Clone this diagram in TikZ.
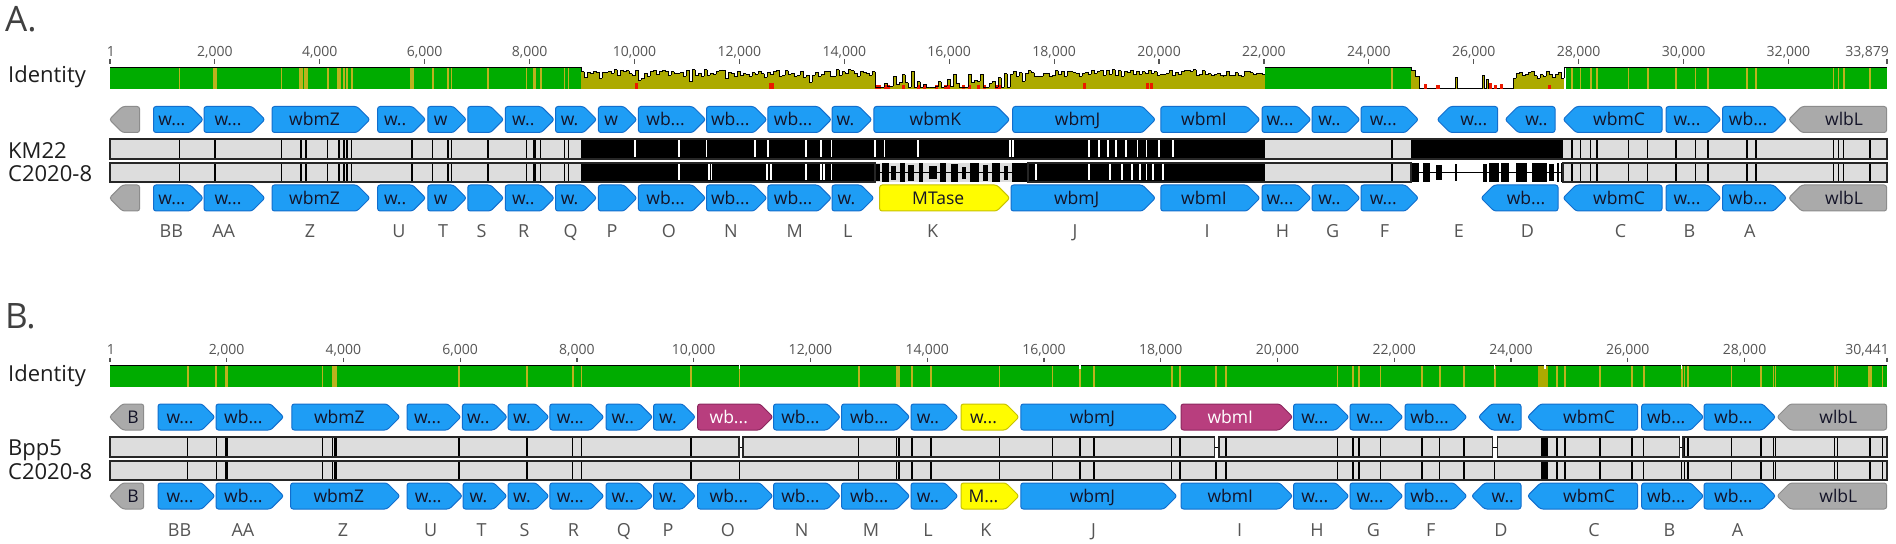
\documentclass[tikz,border=0pt]{standalone}
\usepackage{fontspec}
\setmainfont{Open Sans}
\definecolor{gblue}{RGB}{30,157,245}
\definecolor{gblueb}{RGB}{18,110,205}
\definecolor{ggrey}{RGB}{170,170,170}
\definecolor{ggreyb}{RGB}{140,140,140}
\definecolor{gyel}{RGB}{255,252,0}
\definecolor{gyelb}{RGB}{200,195,0}
\definecolor{gmag}{RGB}{184,62,126}
\definecolor{gmagb}{RGB}{140,40,95}
\definecolor{idgreen}{RGB}{0,172,0}
\definecolor{idolive}{RGB}{172,170,0}
\definecolor{idstripe}{RGB}{188,178,30}
\definecolor{idred}{RGB}{235,25,0}
\definecolor{bargrey}{RGB}{221,221,221}
\definecolor{txtdark}{RGB}{30,30,30}
\definecolor{txtgrey}{RGB}{85,85,85}
\definecolor{glabc}{RGB}{20,20,40}
\def\gd{...}
\def\gdd{..}
\newcounter{gn}
\newcommand\gene[6]{%
  \stepcounter{gn}%
  \pgfmathsetmacro\gtip{min(13,0.45*(#2-#1))}%
  \if r#4%
    \pgfmathsetmacro\gxa{#1}%
    \pgfmathsetmacro\gxb{#2-\gtip}%
    \draw[#5] (#1,#3-13) -- (\gxb,#3-13) -- (#2,#3) -- (\gxb,#3+13) -- (#1,#3+13) -- cycle;%
  \else
    \pgfmathsetmacro\gxa{#1+\gtip}%
    \pgfmathsetmacro\gxb{#2}%
    \draw[#5] (#2,#3-13) -- (\gxa,#3-13) -- (#1,#3) -- (\gxa,#3+13) -- (#2,#3+13) -- cycle;%
  \fi
  \node[glabel,#5t] (g\arabic{gn}) at ({(\gxa+\gxb)/2},#3+6.2) {#6};%
}
\def\Amis{179.6/1, 215/2, 281.6/1, 301/2, 306/2, 327.8/1, 338.8/2, 344/1, 347/1, 351.8/1, 412/2, 432.7/1, 448/1, 451.4/1, 488/1, 526.5/1, 534.7/2, 540.8/1, 564.5/1, 568.6/1, 1392/1, 1572/1, 1580.5/1, 1590.7/1, 1597/1, 1628.6/1, 1647.8/1, 1676/1, 1695.6/1, 1708/1, 1747/1, 1756/1, 1833.5/1, 1838.4/1, 1843.7/1, 1870/1}
\def\Bmis{187.8/1, 216.3/1, 226.5/2, 322.4/1, 332.7/1, 335.5/2, 459/1, 527/1, 572.7/1, 581.6/1, 691/1, 739.6/1, 858.8/1, 896.7/1, 899/1, 912/1, 931/1, 999.6/1, 1052.6/1, 1080/1, 1094/1, 1171.8/1, 1180/1, 1216/1, 1226/1, 1337.6/1, 1353/1, 1359/1, 1380.5/1, 1422/1, 1439.7/1, 1464/1, 1494.8/1, 1557/1, 1565/1, 1600/1, 1632/1, 1643.8/1, 1681.7/1, 1684.6/1, 1688/1, 1731.5/1, 1761/1, 1773.6/1, 1775.6/1, 1834.8/1, 1837.6/1, 1870/2, 1882.5/1}
\begin{document}
\begin{tikzpicture}[x=1bp,y=-1bp,
  gb/.style={fill=gblue,draw=gblueb,line width=1bp,rounded corners=2.5bp,line join=round},
  gg/.style={fill=ggrey,draw=ggreyb,line width=1bp,rounded corners=2.5bp,line join=round},
  gy/.style={fill=gyel,draw=gyelb,line width=1bp,rounded corners=2.5bp,line join=round},
  gm/.style={fill=gmag,draw=gmagb,line width=1bp,rounded corners=2.5bp,line join=round},
  gbt/.style={text=glabc}, ggt/.style={text=glabc}, gyt/.style={text=glabc}, gmt/.style={text=white},
  glabel/.style={font=\fontsize{17.5bp}{20bp}\selectfont,inner sep=0pt,anchor=base},
  letter/.style={font=\fontsize{18bp}{20bp}\selectfont,text=txtgrey,inner sep=0pt,anchor=base},
  axnum/.style={font=\fontsize{14bp}{16bp}\selectfont,text=txtgrey,inner sep=0pt,anchor=base},
  side/.style={font=\fontsize{22bp}{26bp}\selectfont,text=txtdark,inner sep=0pt,anchor=base west},
  panel/.style={font=\fontsize{35bp}{40bp}\selectfont,text=txtdark!85,inner sep=0pt,anchor=base west},
  tickl/.style={draw=txtgrey,line width=1.2bp},
  histline/.style={draw=black,line width=0.7bp},
  barline/.style={draw=black!85,line width=1.5bp},
  misline/.style={draw=black},
]
\useasboundingbox (0,0) rectangle (1896,544);
\fill[white] (0,0) rectangle (1896,544);

% ---------------- labels
\node[panel] (panA) at (5,32) {A.};
\node[panel] (panB) at (5,329) {B.};
\node[side] (idA) at (8,83) {Identity};
\node[side] (idB) at (8,381) {Identity};
\node[side] (kmA) at (8,158.3) {KM22};
\node[side] (cA) at (8,181.7) {C2020-8};
\node[side] (bpB) at (8,455) {Bpp5};
\node[side] (cB) at (8,479) {C2020-8};

% ---------------- axes (positions in thousands of bp)
\def\kA{52.453}
\def\kB{58.377}
\draw[tickl] (110,59.5) -- (110,64);
\node[axnum] (axA0) at (111,57) {1};
\foreach \v/\lab [count=\c] in {2/{2,000},4/{4,000},6/{6,000},8/{8,000},10/{10,000},12/{12,000},14/{14,000},16/{16,000},18/{18,000},20/{20,000},22/{22,000},24/{24,000},26/{26,000},28/{28,000},30/{30,000},32/{32,000}}{
  \pgfmathsetmacro\xx{110+\v*\kA-0.05}
  \draw[tickl] (\xx,59.5) -- (\xx,64);
  \node[axnum] (axA\c) at (\xx,57) {\lab};
}
\draw[tickl] (1887,59.5) -- (1887,64);
\node[axnum,anchor=base east] (axAend) at (1889,57) {33,879};
\draw[tickl] (110,357.5) -- (110,362);
\node[axnum] (axB0) at (111,355) {1};
\foreach \v/\lab [count=\c] in {2/{2,000},4/{4,000},6/{6,000},8/{8,000},10/{10,000},12/{12,000},14/{14,000},16/{16,000},18/{18,000},20/{20,000},22/{22,000},24/{24,000},26/{26,000},28/{28,000}}{
  \pgfmathsetmacro\xx{110+\v*\kB-0.06}
  \draw[tickl] (\xx,357.5) -- (\xx,362);
  \node[axnum] (axB\c) at (\xx,355) {\lab};
}
\draw[tickl] (1887,357.5) -- (1887,362);
\node[axnum,anchor=base east] (axBend) at (1889,355) {30,441};

% ---------------- identity A
\fill[idgreen] (110,67) rectangle (581,89);
\fill[idgreen] (1265,67) rectangle (1411,89);
\fill[idgreen] (1566,67) rectangle (1887,89);
\foreach \p/\w in \Amis {\pgfmathsetmacro\lw{1.7*\w}\draw[idstripe,line width=\lw bp] (\p,67.5) -- (\p,89);}
\draw[histline] (110,67) -- (581,67);
\draw[histline] (1265,67) -- (1411,67);
\draw[histline] (1566,67) -- (1887,67);
\pgfmathsetseed{4242}
\xdef\prevtop{67}
\foreach \i in {0,...,227}{%
  \pgfmathsetmacro\xa{581+3*\i}%
  \pgfmathsetmacro\xb{\xa+3}%
  \pgfmathsetmacro\rA{rnd}%
  \pgfmathsetmacro\rB{rnd}%
  \pgfmathsetmacro\low{(\xa>872)*(\xa<1010)}%
  \pgfmathsetmacro\tp{\low*(87.5-17*\rA*\rA*\rA)+(1-\low)*(69.5+7*\rA+ (\rB<0.04)*6)}%
  \fill[idolive] (\xa,\tp) rectangle (\xb,89);
  \pgfmathsetmacro\isred{\low*(\rB<0.35)}%
  \ifdim\isred pt>0.5pt \fill[idred] (\xa,85.5) rectangle (\xb,89); \fi
  \draw[histline] (\xa,\prevtop) -- (\xa,\tp) -- (\xb,\tp);
  \xdef\prevtop{\tp}%
}
\foreach \a in {635,769,771,1083,1146,1150}{\fill[idred] (\a,83) rectangle (\a+2.5,89);}
% low region A
\fill[idolive] (1411,70) rectangle (1415,89);
\fill[idolive] (1415,76) rectangle (1419,89);
\draw[histline] (1411,67) -- (1411,70) -- (1415,70) -- (1415,76) -- (1419,76) -- (1419,88.6) -- (1513,88.6);
\fill[idred] (1424,84) rectangle (1427,89);
\fill[idred] (1436,85) rectangle (1440,89);
\fill[idolive] (1455.5,77) rectangle (1457.2,89);
\draw[histline] (1455.5,88.6) -- (1455.5,77) -- (1457.2,77) -- (1457.2,88.6);
\fill[idolive] (1482.5,75) rectangle (1484.5,89);
\fill[idolive] (1486,79) rectangle (1488,89);
\draw[histline] (1482.5,88.6) -- (1482.5,75) -- (1484.5,75) -- (1484.5,88.6);
\draw[histline] (1486,88.6) -- (1486,79) -- (1488,79) -- (1488,88.6);
\fill[idred] (1489,83) rectangle (1492,89);
\fill[idred] (1494,85) rectangle (1497,89);
\fill[idred] (1500,84) rectangle (1503,89);
\pgfmathsetseed{777}
\xdef\prevtop{88.6}
\foreach \i in {0,...,16}{%
  \pgfmathsetmacro\xa{1513+3*\i}%
  \pgfmathsetmacro\xb{\xa+3}%
  \pgfmathsetmacro\tp{70.5+8*rnd}%
  \fill[idolive] (\xa,\tp) rectangle (\xb,89);
  \draw[histline] (\xa,\prevtop) -- (\xa,\tp) -- (\xb,\tp);
  \xdef\prevtop{\tp}%
}
\draw[histline] (1564,\prevtop) -- (1564,67) -- (1566,67);
\fill[idred] (1548,85) rectangle (1551,89);

% ---------------- alignment bars A
% bar 1
\fill[bargrey] (110,139) rectangle (1887,159);
\fill[black] (581,139) rectangle (1265,159);
\fill[black] (1411,139) rectangle (1563,159);
\foreach \p in {635,679,706.5,754.7,767.8,805.7,820.8,831.4,875,884.5,918,1010,1013,1089,1099,1108,1116,1126,1137.5,1146.5,1158.8,1173}{\draw[white,line width=1.6bp] (\p,140.5) -- (\p,157.5);}
\foreach \p/\w in \Amis {\pgfmathsetmacro\lw{1.3*\w}\draw[misline,line width=\lw bp] (\p,139) -- (\p,159);}
\draw[barline] (110,139) rectangle (1887,159);
% bar 2
\fill[bargrey] (110,163) rectangle (1411,182);
\fill[bargrey] (1563,163) rectangle (1887,182);
\fill[black] (581,163) rectangle (875,182);
\fill[black] (1028,163) rectangle (1265,182);
\foreach \p in {679,709,711.5,767,771,805.7,820.8,824,831.4,1036,1089,1110,1122,1132,1140,1146.5,1152.7,1163}{\draw[white,line width=1.6bp] (\p,164.5) -- (\p,180.5);}
\draw[black,line width=0.8bp] (875,172.5) -- (1028,172.5);
\foreach \a/\b/\t/\u in {876/880/164/181, 882/889/163/182, 891/896/166/180, 900/905/163/182, 908/914/165/181, 919/923/163/182, 929/937/166/179, 940/946/163/182, 951/958/164/182, 962/966/167/179, 970/979/163/182, 983/988/165/181, 992/1000/163/182, 1004/1008/166/180, 1012/1028/163/182}{\fill[black] (\a,\t) rectangle (\b,\u);}
\draw[black,line width=0.8bp] (1411,172.5) -- (1563,172.5);
\foreach \a/\b/\t/\u in {1411/1418.5/163/182, 1423/1429.5/163/182, 1435.6/1441.7/165/180, 1455/1457/164/181, 1482.5/1486.6/164/182, 1488.6/1499/163/182, 1501/1509/163/182, 1516/1527.4/163/182, 1532/1546.6/163/182, 1549/1554/164/181, 1557/1559/163/182, 1561/1563/163/182}{\fill[black] (\a,\t) rectangle (\b,\u);}
\foreach \p/\w in \Amis {\pgfmathsetmacro\lw{1.3*\w}\draw[misline,line width=\lw bp] (\p,163) -- (\p,182);}
\draw[barline] (110,163) rectangle (875,182);
\draw[barline] (1028,163) rectangle (1411,182);
\draw[barline] (1563,163) rectangle (1887,182);

% ---------------- identity B
\fill[idgreen] (110,365) rectangle (1887,387);
\foreach \p/\w in \Bmis {\pgfmathsetmacro\lw{1.7*\w}\draw[idstripe,line width=\lw bp] (\p,365.5) -- (\p,387);}
\fill[idolive] (1537.5,365.5) rectangle (1548,387);
\draw[histline] (110,365) -- (1887,365);
\foreach \p in {739.6,1080,1494.8,1545,1681.7}{\draw[white,line width=1.2bp] (\p,364.5) -- (\p,368.5);}

% ---------------- alignment bars B
\fill[bargrey] (110,437) rectangle (1887,457);
\foreach \p/\w in \Bmis {\pgfmathsetmacro\lw{1.3*\w}\draw[misline,line width=\lw bp] (\p,437) -- (\p,457);}
\fill[black] (1541,437) rectangle (1548,457);
\foreach \a/\b in {739/743,1214.7/1218.8,1492.7/1497.6,1679.7/1683}{\fill[white] (\a,435) rectangle (\b,459); \draw[black,line width=0.9bp] (\a,447) -- (\b,447);}
\foreach \a/\b in {110/739,743/1214.7,1218.8/1492.7,1497.6/1679.7,1683/1887}{\draw[barline] (\a,437) rectangle (\b,457);}
\fill[bargrey] (110,461) rectangle (1887,480);
\foreach \p/\w in \Bmis {\pgfmathsetmacro\lw{1.3*\w}\draw[misline,line width=\lw bp] (\p,461) -- (\p,480);}
\fill[black] (1541,461) rectangle (1548,480);
\draw[barline] (110,461) rectangle (1887,480);

% ---------------- genes A row 1
\foreach \a/\b/\d/\s/\l in {109.4/139.6/l/gg/{}, 153.5/203.3/r/gb/w\gd, 204/265/r/gb/w\gd, 272/370/r/gb/wbmZ, 377.6/425.7/r/gb/w\gdd, 427.8/466.5/r/gb/w, 467.8/503.7/r/gb/{}, 505.3/554.3/r/gb/w\gdd, 555.5/596.7/r/gb/w., 598.4/637/r/gb/w, 638.4/705.7/r/gb/wb\gd, 706.5/767/r/gb/wb\gd, 767.8/831.4/r/gb/wb\gd, 832/872/r/gb/w., 873.9/1009.8/r/gb/wbmK, 1012.7/1155.5/r/gb/wbmJ, 1160.8/1260/r/gb/wbmI, 1262/1311/r/gb/w\gd, 1312/1360/r/gb/w\gdd, 1361/1418.5/r/gb/w\gd, 1437/1497.6/l/gb/w\gd, 1505/1555/l/gb/w\gdd, 1563/1662/l/gb/wbmC, 1666/1721/r/gb/w\gd, 1722.5/1786.6/r/gb/wb\gd, 1788.6/1886.6/l/gg/wlbL}
{\edef\tmp{\noexpand\gene{\a}{\b}{119.5}{\d}{\s}{\l}}\tmp}
% genes A row 2
\foreach \a/\b/\d/\s/\l in {109.4/139.6/l/gg/{}, 153.5/203.3/r/gb/w\gd, 204/265/r/gb/w\gd, 272/370/r/gb/wbmZ, 377.6/425.7/r/gb/w\gdd, 427.8/466.5/r/gb/w, 467.8/503.7/r/gb/{}, 505.3/554.3/r/gb/w\gdd, 555.5/596.7/r/gb/w., 598.4/637/r/gb/{}, 638.4/705.7/r/gb/wb\gd, 706.5/767/r/gb/wb\gd, 767.8/831.4/r/gb/wb\gd, 832/874/r/gb/w., 879.6/1009.8/r/gy/MTase, 1011/1155.5/r/gb/wbmJ, 1160.8/1260/r/gb/wbmI, 1262/1311/r/gb/w\gd, 1312/1360/r/gb/w\gdd, 1361/1418.5/r/gb/w\gd, 1481/1558/l/gb/wb\gd, 1563/1662/l/gb/wbmC, 1666/1721/r/gb/w\gd, 1722.5/1786.6/r/gb/wb\gd, 1788.6/1886.6/l/gg/wlbL}
{\edef\tmp{\noexpand\gene{\a}{\b}{198}{\d}{\s}{\l}}\tmp}
% genes B row 1
\foreach \a/\b/\d/\s/\l in {109.4/143.7/l/gg/B, 158/215/r/gb/w\gd, 216/283.7/r/gb/wb\gd, 291.8/400/r/gb/wbmZ, 407/461/r/gb/w\gd, 462.4/507.3/r/gb/w\gdd, 508/549/r/gb/w., 549.8/604/r/gb/w\gd, 606/652.7/r/gb/w\gdd, 653.5/695.5/r/gb/w., 697.6/773/r/gm/wb\gd, 773.5/840.4/r/gb/wb\gd, 841.6/909.8/r/gb/wb\gd, 911/958/r/gb/w\gdd, 961/1019/r/gy/w\gd, 1020.8/1177/r/gb/wbmJ, 1181/1292.7/r/gm/wbmI, 1293.5/1349/r/gb/w\gd, 1350/1403/r/gb/w\gd, 1405/1467/r/gb/wb\gd, 1478.4/1521/l/gb/w., 1527.4/1637.6/l/gb/wbmC, 1641.7/1703.7/r/gb/wb\gd, 1704/1775.6/r/gb/wb\gd, 1777/1886.6/l/gg/wlbL}
{\edef\tmp{\noexpand\gene{\a}{\b}{417}{\d}{\s}{\l}}\tmp}
% genes B row 2
\foreach \a/\b/\d/\s/\l in {109.4/143.7/l/gg/B, 158/215/r/gb/w\gd, 216/283.7/r/gb/wb\gd, 290.6/400/r/gb/wbmZ, 407/462.4/r/gb/w\gd, 463/507/r/gb/w., 508/549/r/gb/w., 549.8/604/r/gb/w\gd, 606/652.7/r/gb/w\gdd, 653.5/695.5/r/gb/w., 697.6/773/r/gb/wb\gd, 773.5/840.4/r/gb/wb\gd, 841.6/909.8/r/gb/wb\gd, 911/958/r/gb/w\gdd, 961/1019/r/gy/M\gd, 1020.8/1177/r/gb/wbmJ, 1181/1292.7/r/gb/wbmI, 1293.5/1349/r/gb/w\gd, 1350/1403/r/gb/w\gd, 1405/1467/r/gb/wb\gd, 1471.5/1521/l/gb/w\gdd, 1527.4/1637.6/l/gb/wbmC, 1641.7/1703.7/r/gb/wb\gd, 1704/1775.6/r/gb/wb\gd, 1777/1886.6/l/gg/wlbL}
{\edef\tmp{\noexpand\gene{\a}{\b}{496}{\d}{\s}{\l}}\tmp}

% ---------------- gene letters
\foreach \p/\t [count=\c] in {171.4/BB, 223.7/AA, 310/Z, 399/U, 443/T, 481.6/S, 523.7/R, 570.6/Q, 612/P, 669/O, 731/N, 794.7/M, 847.8/L, 932.7/K, 1075/J, 1207/I, 1282.5/H, 1332.7/G, 1384.6/F, 1458.9/E, 1527.4/D, 1620.5/C, 1689.5/B, 1749.9/A}
{\node[letter] (lA\c) at (\p,238) {\t};}
\foreach \p/\t [count=\c] in {179.6/BB, 242.9/AA, 342.9/Z, 430.6/U, 481.6/T, 524.5/S, 573.5/R, 624/Q, 668/P, 728/O, 801.6/N, 871/M, 928/L, 986/K, 1093.5/J, 1239.6/I, 1317/H, 1373.5/G, 1430.7/F, 1501/D, 1594/C, 1669.5/B, 1737.6/A}
{\node[letter] (lB\c) at (\p,536) {\t};}
\end{tikzpicture}
\end{document}
